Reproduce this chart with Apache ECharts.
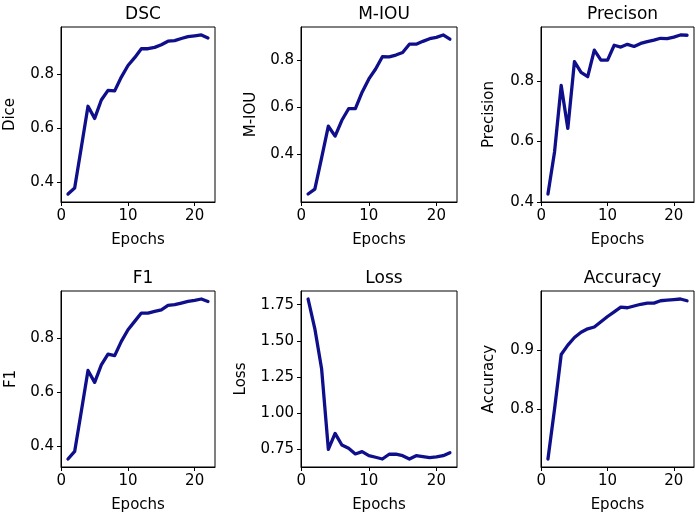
<!DOCTYPE html>
<html><head><meta charset="utf-8">
<script src="https://cdn.jsdelivr.net/npm/echarts@6/dist/echarts.min.js"></script>
<style>html,body{margin:0;padding:0;background:#fff}#c{width:699px;height:518px}</style>
</head><body><div id="c"></div>
<script>
const epochs = [1,2,3,4,5,6,7,8,9,10,11,12,13,14,15,16,17,18,19,20,21,22];
const dsc = [0.357,0.379,0.53,0.682,0.637,0.705,0.741,0.739,0.79,0.833,0.862,0.895,0.895,0.9,0.91,0.923,0.925,0.933,0.94,0.943,0.946,0.935];
const miou = [0.232,0.253,0.385,0.519,0.477,0.544,0.593,0.593,0.663,0.719,0.761,0.813,0.812,0.82,0.831,0.866,0.866,0.878,0.889,0.895,0.905,0.887];
const precision = [0.426,0.566,0.785,0.643,0.864,0.828,0.814,0.902,0.869,0.869,0.918,0.912,0.921,0.914,0.924,0.93,0.935,0.941,0.94,0.945,0.952,0.951];
const f1 = [0.353,0.381,0.53,0.681,0.637,0.702,0.742,0.736,0.789,0.832,0.863,0.894,0.894,0.9,0.906,0.922,0.925,0.931,0.937,0.941,0.946,0.937];
const loss = [1.789,1.583,1.307,0.75,0.86,0.78,0.757,0.718,0.734,0.706,0.695,0.683,0.716,0.716,0.706,0.683,0.706,0.7,0.693,0.698,0.706,0.727];
const accuracy = [0.714,0.80,0.893,0.909,0.922,0.931,0.937,0.94,0.949,0.958,0.966,0.974,0.973,0.976,0.979,0.981,0.981,0.985,0.986,0.987,0.988,0.985];

const xTicks = [0,10,20];
const dscTicks = [0.4,0.6,0.8];
const miouTicks = [0.4,0.6,0.8];
const precTicks = [0.4,0.6,0.8];
const f1Ticks = [0.4,0.6,0.8];
const lossTicks = [0.75,1.00,1.25,1.50,1.75];
const accTicks = [0.8,0.9];

const titles = ['DSC','M-IOU','Precison','F1','Loss','Accuracy'];
const yNames = ['Dice','M-IOU','Precision','F1','Loss','Accuracy'];
const seriesVals = [dsc, miou, precision, f1, loss, accuracy];
const yTicks = [dscTicks, miouTicks, precTicks, f1Ticks, lossTicks, accTicks];
const yDigits = [1,1,1,1,2,1];

// layout (pixels)
const boxes = [
  {left:61, top:27, width:154, height:175, nameGap:43},
  {left:301, top:27, width:156, height:175, nameGap:42},
  {left:541, top:27, width:153, height:175, nameGap:44},
  {left:61, top:291, width:154, height:176, nameGap:42},
  {left:301, top:291, width:156, height:176, nameGap:52},
  {left:541, top:291, width:153, height:176, nameGap:44}
];
const FONT = 'DejaVu Sans';
const LINE = '#0f0f8c';

const grid = [], xAxis = [], yAxis = [], series = [], title = [];
const xmin = epochs[0], xmax = epochs[epochs.length-1];
const xr = xmax - xmin;
boxes.forEach((b, i) => {
  grid.push({left:b.left, top:b.top, width:b.width, height:b.height, show:true, borderColor:'#000', borderWidth:1, backgroundColor:'#fff', containLabel:false});
  title.push({text:titles[i], left:b.left + b.width/2, top: b.top - 26, textAlign:'center',
    textStyle:{fontFamily:FONT, fontSize:17, fontWeight:'normal', color:'#000'}});
  xAxis.push({type:'value', gridIndex:i, min:xmin-0.05*xr, max:xmax+0.05*xr,
    name:'Epochs', nameLocation:'middle', nameGap:31,
    nameTextStyle:{fontFamily:FONT, fontSize:15, color:'#000'},
    axisLine:{show:true, onZero:false, lineStyle:{color:'#000', width:1}},
    axisTick:{show:true, length:4, lineStyle:{color:'#000'}, customValues:xTicks},
    axisLabel:{fontFamily:FONT, fontSize:15, color:'#000', margin:7, customValues:xTicks, formatter:v=>String(v)},
    splitLine:{show:false}});
  const vals = seriesVals[i];
  const lo = Math.min(...vals), hi = Math.max(...vals), r = hi - lo;
  const d = yDigits[i];
  yAxis.push({type:'value', gridIndex:i, min:lo-0.05*r, max:hi+0.05*r,
    name:yNames[i], nameLocation:'middle', nameGap:b.nameGap,
    nameTextStyle:{fontFamily:FONT, fontSize:15, color:'#000'},
    axisLine:{show:true, onZero:false, lineStyle:{color:'#000', width:1}},
    axisTick:{show:true, length:4, lineStyle:{color:'#000'}, customValues:yTicks[i]},
    axisLabel:{fontFamily:FONT, fontSize:15, color:'#000', margin:7, customValues:yTicks[i], formatter:v=>Number(v).toFixed(d)},
    splitLine:{show:false}});
  series.push({type:'line', xAxisIndex:i, yAxisIndex:i, showSymbol:false, symbol:'none', smooth:false,
    lineStyle:{color:LINE, width:3.3, cap:'round', join:'round'},
    data: epochs.map((e, k) => [e, vals[k]]), animation:false});
});

const chart = echarts.init(document.getElementById('c'), null, {renderer:'canvas'});
chart.setOption({animation:false, backgroundColor:'#fff', title, grid, xAxis, yAxis, series});
</script>
</body></html>
